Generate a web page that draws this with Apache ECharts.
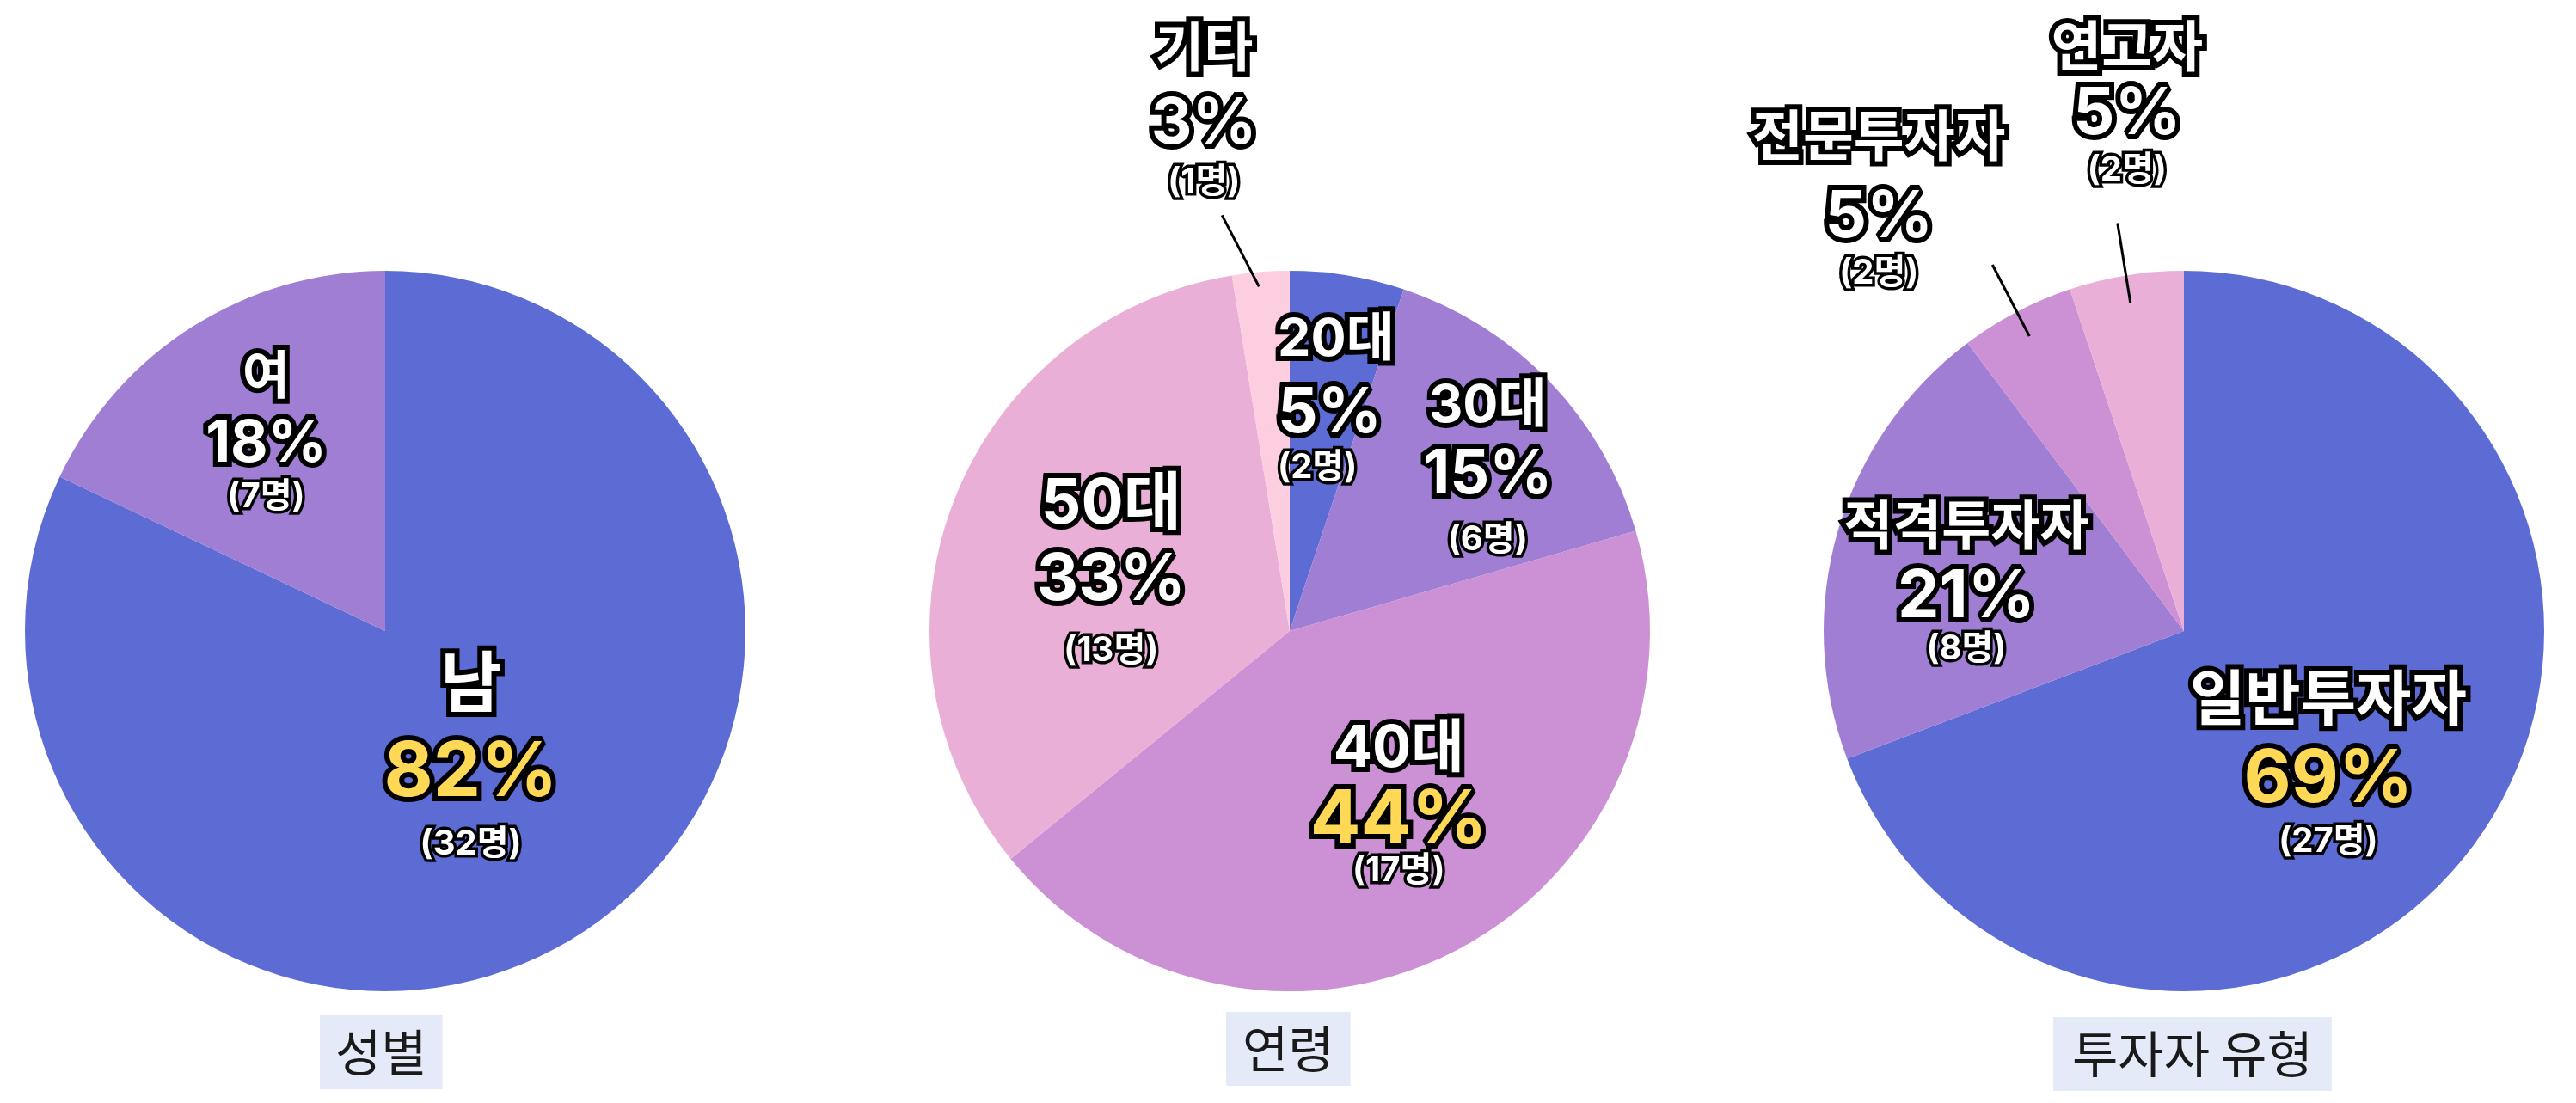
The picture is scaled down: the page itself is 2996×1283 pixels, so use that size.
<!DOCTYPE html>
<html><head><meta charset="utf-8">
<script src="https://cdn.jsdelivr.net/npm/echarts@6/dist/echarts.min.js"></script>
<style>html,body{margin:0;padding:0;background:#fff}#c{width:2996px;height:1283px}</style>
</head><body><div id="c"></div>
<script>
// ---------- data ----------
const genderNames = ['남', '여'];
const genderCounts = [32, 7];
const ageNames = ['20대', '30대', '40대', '50대', '기타'];
const ageCounts = [2, 6, 17, 13, 1];
const typeNames = ['일반투자자', '적격투자자', '전문투자자', '연고자'];
const typeCounts = [27, 8, 2, 2];
const chartTitles = ['성별', '연령', '투자자 유형'];

// ---------- styles / layout ----------
const COLORS = ['#5D6CD4', '#A07ED3', '#CC91D4', '#EAAFD6', '#FDCEE0'];
const YELLOW = '#FFD955';
const FONT = 'Inter, "Noto Sans CJK KR", sans-serif';
const RADIUS = 419;
const CENTERS = [[448, 734], [1500, 734], [2540, 734]];

// per-slice label styling: n/p/c font sizes, g1/g2 gaps between line centres,
// dx/dy shift of the percent line from the default label anchor
const genderStyle = [
  { n: 77, p: 88, c: 40, g1: 101, g2: 82, dx: -14, dy: -13, hi: true },
  { n: 60, p: 67, c: 40, g1: 77, g2: 61, dx: -25, dy: -39 }
];
const ageStyle = [
  { n: 61, p: 73, c: 40, g1: 85, g2: 63, dx: -48, dy: -48, align: 'left' },
  { n: 61, p: 72, c: 40, g1: 80, g2: 75, dx: 77, dy: -30 },
  { n: 67, p: 87, c: 40, g1: 83, g2: 58, dx: 28, dy: 28, hi: true },
  { n: 73, p: 75, c: 40, g1: 88, g2: 82, dx: -9, dy: 23 },
  { n: 62, p: 74, c: 40, g1: 85, g2: 68, out: true, dx: -66, dy: -172, line: [[-2, 17], [-45, -66]] }
];
const typeStyle = [
  { n: 70, p: 85, c: 40, g1: 91, g2: 72, dx: -7, dy: 52, hi: true },
  { n: 62, p: 77, c: 40, g1: 79, g2: 60, dx: -49, dy: 17 },
  { n: 64, p: 76, c: 40, g1: 91, g2: 65, out: true, dx: -160, dy: -110, line: [[15, 28], [-28, -55]] },
  { n: 64, p: 76, c: 40, g1: 76, g2: 65, out: true, dx: 1, dy: -187, line: [[5, 32], [-10, -61]] }
];
const titleBoxes = [
  { left: 372, top: 1181, padH: 18, padV: 14 },
  { left: 1426, top: 1177, padH: 19, padV: 14 },
  { left: 2388, top: 1183, padH: 22, padV: 14 }
];

function lineHeights(st) {
  const L2 = st.p * 1.05;
  return [2 * st.g1 - L2, L2, 2 * st.g2 - L2];
}

function baseData(names, counts) {
  return names.map(function (nm, i) {
    return { name: nm, value: counts[i], itemStyle: { color: COLORS[i] } };
  });
}

function labelData(names, counts, styles) {
  return names.map(function (nm, i) {
    const st = styles[i];
    const L = lineHeights(st);
    const base = { fontFamily: FONT, fontWeight: 'bold', color: '#fff', textBorderColor: '#000' };
    return {
      name: nm,
      value: counts[i],
      itemStyle: { color: 'rgba(0,0,0,0)' },
      label: {
        show: true,
        position: st.out ? 'outside' : 'inside',
        rich: {
          n: Object.assign({}, base, { fontSize: st.n, lineHeight: L[0], textBorderWidth: 12 }),
          p: Object.assign({}, base, { fontSize: st.p, lineHeight: L[1], textBorderWidth: 12, color: st.hi ? YELLOW : '#fff' }),
          c: Object.assign({}, base, { fontSize: st.c, lineHeight: L[2], textBorderWidth: 7 })
        }
      },
      labelLine: { show: !!st.out, length: 30, length2: 0, lineStyle: { color: '#000', width: 3 } }
    };
  });
}

function makeLayout(styles) {
  return function (params) {
    const st = styles[params.dataIndex];
    const L = lineHeights(st);
    const shiftToBlock = (L[0] - L[2]) / 2;
    if (st.out) {
      const p1 = params.labelLinePoints[0];
      return {
        x: p1[0] + st.dx,
        y: p1[1] + st.dy - shiftToBlock,
        align: 'center',
        verticalAlign: 'middle',
        labelLinePoints: [
          [p1[0] + st.line[0][0], p1[1] + st.line[0][1]],
          [p1[0] + st.line[1][0], p1[1] + st.line[1][1]]
        ]
      };
    }
    const r = params.labelRect;
    const ax = r.x + r.width / 2, ay = r.y + r.height / 2;
    return {
      x: ax + st.dx,
      y: ay + st.dy - shiftToBlock,
      align: st.align || 'center',
      verticalAlign: 'middle'
    };
  };
}

function fmt(params) {
  const pct = Math.round(params.percent);
  return '{n|' + params.name + '}\n{p|' + pct + '%}\n{c|(' + params.value + '명)}';
}

function common(idx) {
  return {
    type: 'pie',
    center: CENTERS[idx],
    radius: RADIUS,
    startAngle: 90,
    clockwise: true,
    avoidLabelOverlap: false,
    animation: false,
    silent: true,
    itemStyle: { borderWidth: 0 }
  };
}

function pieBase(idx, names, counts) {
  return Object.assign(common(idx), {
    z: 2,
    label: { show: false },
    labelLine: { show: false },
    data: baseData(names, counts)
  });
}

function pieLabels(idx, names, counts, styles) {
  return Object.assign(common(idx), {
    z: 5,
    label: { show: true, formatter: fmt },
    labelLayout: makeLayout(styles),
    data: labelData(names, counts, styles)
  });
}

const chart = echarts.init(document.getElementById('c'), null, { renderer: 'canvas' });
chart.setOption({
  backgroundColor: '#ffffff',
  animation: false,
  title: chartTitles.map(function (t, i) {
    const b = titleBoxes[i];
    return {
      text: t,
      left: b.left,
      top: b.top,
      backgroundColor: '#E4EAF8',
      padding: [b.padV, b.padH, b.padV, b.padH],
      textStyle: { fontSize: 58, fontWeight: 'normal', color: '#1a1a1a', fontFamily: '"Noto Sans CJK KR", sans-serif' }
    };
  }),
  series: [
    pieBase(0, genderNames, genderCounts),
    pieBase(1, ageNames, ageCounts),
    pieBase(2, typeNames, typeCounts),
    pieLabels(0, genderNames, genderCounts, genderStyle),
    pieLabels(1, ageNames, ageCounts, ageStyle),
    pieLabels(2, typeNames, typeCounts, typeStyle)
  ]
});
</script>
</body></html>
